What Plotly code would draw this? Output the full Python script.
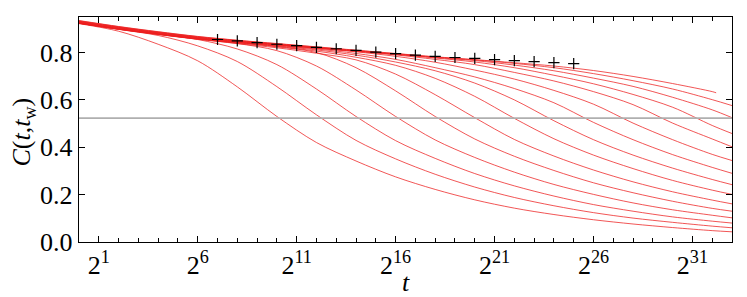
import math
import plotly.graph_objects as go

# ---------------- data ----------------
# time axis given as log2(t)
log2_t = [0, 2, 4, 6, 8, 10, 12, 14, 16, 18, 20, 22, 24, 26, 28, 30, 32, 33]
log2_t_last = [0, 2, 4, 6, 8, 10, 12, 14, 16, 18, 20, 22, 24, 26, 28, 30, 32, 32.2]

C_tw0 = [0.922, 0.890, 0.835, 0.765, 0.655, 0.530, 0.420, 0.342, 0.275, 0.222, 0.178, 0.143, 0.116, 0.094, 0.076, 0.061, 0.048, 0.043]
C_tw1 = [0.924, 0.898, 0.872, 0.828, 0.762, 0.656, 0.537, 0.429, 0.351, 0.286, 0.232, 0.188, 0.153, 0.124, 0.101, 0.083, 0.067, 0.060]
C_tw2 = [0.924, 0.899, 0.878, 0.855, 0.815, 0.749, 0.646, 0.530, 0.428, 0.353, 0.289, 0.237, 0.194, 0.158, 0.130, 0.106, 0.088, 0.080]
C_tw3 = [0.924, 0.899, 0.877, 0.857, 0.838, 0.808, 0.743, 0.642, 0.530, 0.431, 0.357, 0.295, 0.243, 0.201, 0.165, 0.136, 0.113, 0.102]
C_tw4 = [0.924, 0.899, 0.877, 0.857, 0.841, 0.824, 0.800, 0.736, 0.638, 0.530, 0.435, 0.362, 0.302, 0.250, 0.208, 0.172, 0.142, 0.130]
C_tw5 = [0.923, 0.898, 0.876, 0.856, 0.838, 0.820, 0.797, 0.769, 0.709, 0.622, 0.525, 0.433, 0.363, 0.304, 0.254, 0.212, 0.177, 0.161]
C_tw6 = [0.925, 0.900, 0.878, 0.858, 0.842, 0.826, 0.806, 0.780, 0.746, 0.691, 0.615, 0.522, 0.436, 0.367, 0.310, 0.260, 0.219, 0.201]
C_tw7 = [0.926, 0.901, 0.879, 0.859, 0.843, 0.828, 0.811, 0.789, 0.760, 0.723, 0.671, 0.600, 0.512, 0.432, 0.367, 0.312, 0.264, 0.242]
C_tw8 = [0.927, 0.902, 0.880, 0.860, 0.844, 0.830, 0.815, 0.796, 0.771, 0.736, 0.697, 0.648, 0.588, 0.505, 0.432, 0.369, 0.315, 0.290]
C_tw9 = [0.928, 0.904, 0.882, 0.862, 0.846, 0.832, 0.818, 0.803, 0.784, 0.759, 0.726, 0.688, 0.640, 0.582, 0.502, 0.432, 0.370, 0.344]
C_tw10 = [0.930, 0.905, 0.883, 0.863, 0.847, 0.833, 0.819, 0.805, 0.790, 0.771, 0.749, 0.716, 0.680, 0.635, 0.580, 0.502, 0.435, 0.402]
C_tw11 = [0.931, 0.906, 0.884, 0.864, 0.848, 0.834, 0.820, 0.806, 0.792, 0.777, 0.760, 0.736, 0.704, 0.668, 0.623, 0.569, 0.492, 0.458]
C_tw12 = [0.932, 0.907, 0.885, 0.865, 0.849, 0.835, 0.821, 0.807, 0.793, 0.779, 0.766, 0.747, 0.723, 0.692, 0.657, 0.611, 0.558, 0.525]
C_tw13 = [0.934, 0.909, 0.887, 0.867, 0.851, 0.837, 0.823, 0.809, 0.795, 0.781, 0.769, 0.754, 0.736, 0.711, 0.681, 0.646, 0.601, 0.576]
C_tw14 = [0.935, 0.910, 0.888, 0.868, 0.852, 0.838, 0.824, 0.810, 0.796, 0.782, 0.770, 0.757, 0.743, 0.724, 0.699, 0.669, 0.635, 0.630]

curves = [C_tw0, C_tw1, C_tw2, C_tw3, C_tw4, C_tw5, C_tw6, C_tw7,
          C_tw8, C_tw9, C_tw10, C_tw11, C_tw12, C_tw13, C_tw14]
curve_times = [log2_t] * 14 + [log2_t_last]

# extrapolated (t_w -> infinity) points, black crosses
plus_log2_t = [7, 8, 9, 10, 11, 12, 13, 14, 15, 16, 17, 18, 19, 20, 21, 22, 23, 24, 25]
plus_C = [0.855, 0.849, 0.842, 0.835, 0.829, 0.822, 0.816, 0.809, 0.802, 0.795,
          0.789, 0.784, 0.779, 0.775, 0.770, 0.766, 0.762, 0.757, 0.753]

q_EA = 0.523

x_range_log2 = [0, 33]
xtick_log2 = [1, 6, 11, 16, 21, 26, 31]
ytick_vals = [0.0, 0.2, 0.4, 0.6, 0.8]
ytick_text = ["0.0", "0.2", "0.4", "0.6", "0.8"]

# ---------------- figure ----------------
FONT = "Liberation Serif"
fig = go.Figure()

for ts, c in zip(curve_times, curves):
    fig.add_trace(go.Scatter(
        x=[2.0 ** e for e in ts], y=c, mode="lines",
        line=dict(color="rgb(236,30,30)", width=0.75, shape="spline", smoothing=0.9),
        showlegend=False, hoverinfo="skip"))

fig.add_trace(go.Scatter(
    x=[2.0 ** x_range_log2[0], 2.0 ** x_range_log2[1]], y=[q_EA, q_EA], mode="lines",
    line=dict(color="rgb(175,175,175)", width=1.8), showlegend=False, hoverinfo="skip"))

fig.add_trace(go.Scatter(
    x=[2.0 ** e for e in plus_log2_t], y=plus_C, mode="markers",
    marker=dict(symbol="cross-thin", size=8, line=dict(color="black", width=1.2)),
    showlegend=False, hoverinfo="skip"))

axis_common = dict(
    showline=True, linecolor="black", linewidth=1.4, mirror="ticks",
    ticks="inside", tickcolor="black", tickwidth=1.3, ticklen=6,
    showgrid=False, zeroline=False, automargin=False,
    tickfont=dict(family=FONT, size=26, color="black"),
)

fig.update_xaxes(
    type="log",
    range=[x_range_log2[0] * math.log10(2), x_range_log2[1] * math.log10(2)],
    tickmode="array",
    tickvals=[2.0 ** e for e in xtick_log2],
    ticktext=[f"2<sup>{e}</sup>" for e in xtick_log2],
    minor=dict(tickmode="array", tickvals=[2.0 ** e for e in range(0, 34)],
               ticks="inside", ticklen=3.5, tickwidth=1.1, tickcolor="black"),
    **axis_common)

fig.update_yaxes(
    range=[0, 0.95], tickmode="array", tickvals=ytick_vals, ticktext=ytick_text,
    **axis_common)

fig.add_annotation(text="<i>t</i>", xref="paper", yref="paper", x=0.5, y=-0.182,
                   showarrow=False, xanchor="center", yanchor="middle",
                   font=dict(family=FONT, size=26, color="black"))
fig.add_annotation(text="<i>C</i>(<i>t</i>,<i>t</i><sub>w</sub>)", xref="paper", yref="paper",
                   x=-0.086, y=0.49, textangle=-90,
                   showarrow=False, xanchor="center", yanchor="middle",
                   font=dict(family=FONT, size=26, color="black"))

fig.update_layout(
    width=747, height=297,
    margin=dict(l=79, r=15, t=17, b=55),
    paper_bgcolor="white", plot_bgcolor="white",
)

fig.write_html("out.html", config={"displayModeBar": False},
               post_script="document.body.style.margin='0px';")
